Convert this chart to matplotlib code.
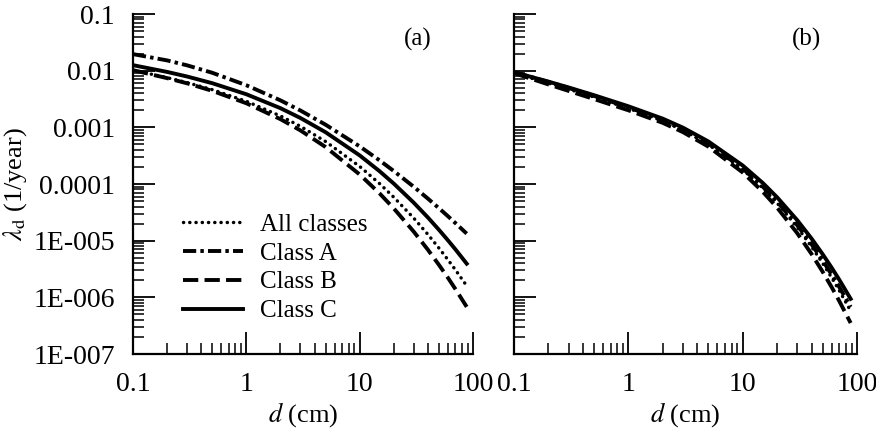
import matplotlib
matplotlib.use("Agg")
import matplotlib.pyplot as plt
import numpy as np

plt.rcParams['font.family'] = ['Liberation Serif', 'DejaVu Serif']
plt.rcParams['mathtext.fontset'] = 'stix'
plt.rcParams['lines.scale_dashes'] = False

# d (cm) sample points
d = [0.1, 0.2, 0.3, 0.5, 1, 2, 3, 5, 10, 15, 20, 30, 40, 50, 60, 70, 88]

# log10 of lambda_d (1/year)
# panel (a)
a_all = [-1.991, -2.124, -2.211, -2.335, -2.540, -2.799, -2.982, -3.250, -3.690,
         -3.994, -4.233, -4.602, -4.890, -5.130, -5.335, -5.516, -5.797]
a_A = [-1.708, -1.819, -1.906, -2.037, -2.257, -2.524, -2.703, -2.953, -3.336,
       -3.584, -3.771, -4.049, -4.258, -4.426, -4.567, -4.690, -4.876]
a_B = [-1.991, -2.132, -2.223, -2.356, -2.575, -2.856, -3.054, -3.347, -3.832,
       -4.167, -4.431, -4.841, -5.160, -5.426, -5.653, -5.855, -6.168]
a_C = [-1.903, -2.022, -2.103, -2.221, -2.416, -2.662, -2.835, -3.086, -3.495,
       -3.775, -3.993, -4.330, -4.591, -4.807, -4.992, -5.154, -5.406]

# panel (b)
b_all = [-2.044, -2.220, -2.326, -2.465, -2.664, -2.887, -3.049, -3.300, -3.743,
         -4.069, -4.335, -4.761, -5.105, -5.397, -5.652, -5.880, -6.240]
b_A = [-2.027, -2.199, -2.305, -2.445, -2.646, -2.872, -3.035, -3.286, -3.726,
       -4.047, -4.308, -4.727, -5.063, -5.348, -5.597, -5.819, -6.169]
b_B = [-2.044, -2.243, -2.357, -2.500, -2.699, -2.921, -3.084, -3.339, -3.796,
       -4.137, -4.416, -4.868, -5.234, -5.547, -5.820, -6.066, -6.453]
b_C = [-2.027, -2.193, -2.296, -2.432, -2.628, -2.847, -3.005, -3.248, -3.673,
       -3.982, -4.234, -4.638, -4.962, -5.237, -5.476, -5.690, -6.027]

labels = ['All classes', 'Class A', 'Class B', 'Class C']
yticks = [1e-7, 1e-6, 1e-5, 1e-4, 1e-3, 1e-2, 1e-1]
ylabels = ['1E-007', '1E-006', '1E-005', '0.0001', '0.001', '0.01', '0.1']
styles = [dict(dashes=(0.1, 4.4), dash_capstyle='round', lw=2.5),
          dict(dashes=(9.5, 3, 2.5, 3), lw=2.8),
          dict(dashes=(11, 4.5), lw=2.8),
          dict(ls='-', lw=2.8)]

fig = plt.figure(figsize=(8.76, 4.32), dpi=100)
ax1 = fig.add_axes([133/876, 78/432, 340/876, 340/432])
ax2 = fig.add_axes([514/876, 78/432, 343/876, 340/432])

for ax, series in [(ax1, [a_all, a_A, a_B, a_C]), (ax2, [b_all, b_A, b_B, b_C])]:
    for ys, lab, st in zip(series, labels, styles):
        ax.plot(d, 10 ** np.array(ys), color='black', label=lab, **st)
    ax.set_xscale('log')
    ax.set_yscale('log')
    ax.set_xlim(0.1, 100)
    ax.set_ylim(1e-7, 0.1)
    for s in ['top', 'right']:
        ax.spines[s].set_visible(False)
    for s in ['left', 'bottom']:
        ax.spines[s].set_linewidth(1.6)
    ax.tick_params(which='major', direction='in', length=16, width=1.3)
    ax.tick_params(which='minor', direction='in', length=8, width=1.1)
    ax.tick_params(axis='y', which='both', pad=13, labelsize=20)
    ax.tick_params(axis='x', which='both', pad=13, labelsize=20)
    ax.xaxis.set_minor_locator(matplotlib.ticker.LogLocator(base=10, subs=range(2, 10), numticks=20))
    ax.yaxis.set_minor_locator(matplotlib.ticker.LogLocator(base=10, subs=range(2, 10), numticks=20))
    ax.xaxis.set_minor_formatter(matplotlib.ticker.NullFormatter())
    ax.yaxis.set_minor_formatter(matplotlib.ticker.NullFormatter())
    ax.set_xticks([0.1, 1, 10, 100])
    ax.set_xticklabels(['0.1', '1', '10', '100'])
    ax.set_yticks(yticks)
    ax.set_xlabel(r'$d$ (cm)', fontsize=19, labelpad=2)

ax1.set_yticklabels(ylabels)
ax1.set_ylabel(r'$\lambda_\mathrm{d}$ (1/year)', fontsize=19, labelpad=3)
ax2.set_yticklabels([])

ax1.text(0.838, 0.924, '(a)', transform=ax1.transAxes, fontsize=18, ha='center', va='center')
ax2.text(0.854, 0.924, '(b)', transform=ax2.transAxes, fontsize=18, ha='center', va='center')

ax1.legend(loc='upper left', bbox_to_anchor=(0.11, 0.45), frameon=False, fontsize=18,
           handlelength=2.4, handletextpad=0.7, labelspacing=0.25, borderpad=0)

fig.savefig('out.png', dpi=100)
